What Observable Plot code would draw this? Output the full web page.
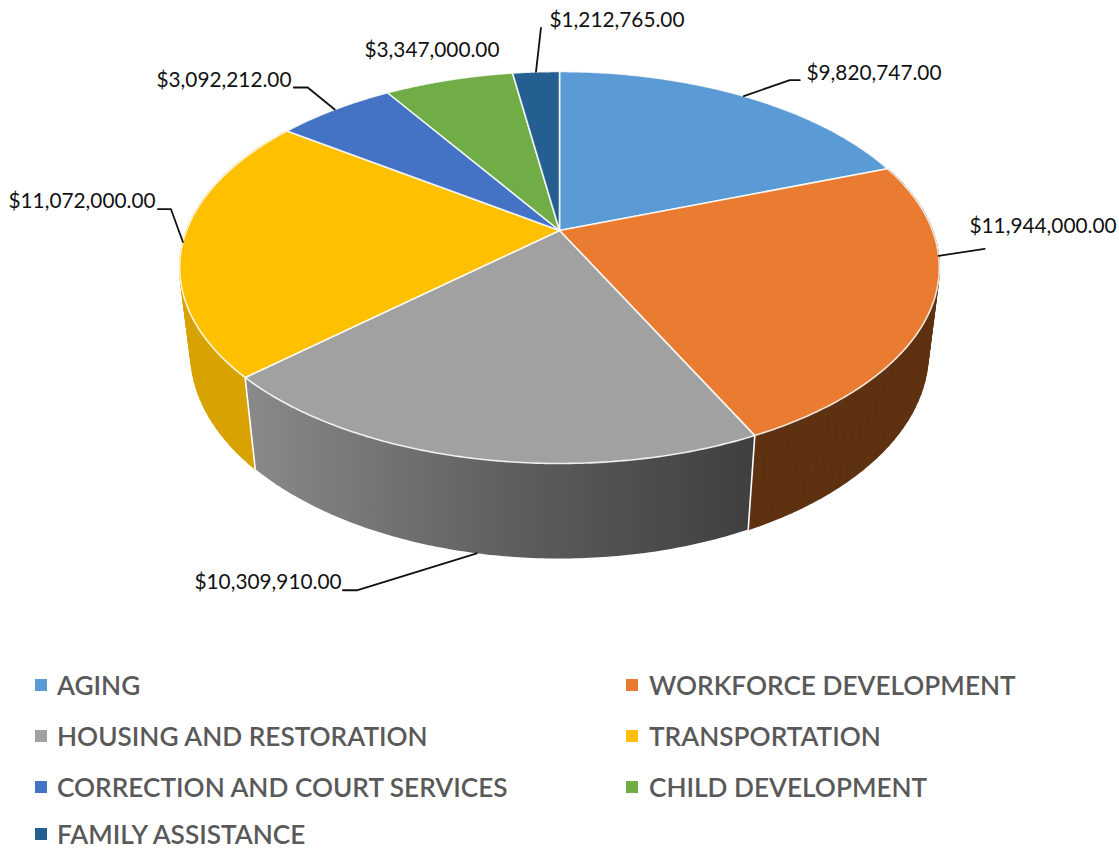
<!DOCTYPE html>
<html>
<head>
<meta charset="utf-8">
<script src="https://cdn.jsdelivr.net/npm/d3@7"></script>
<script src="https://cdn.jsdelivr.net/npm/@observablehq/plot@0.6"></script>
<style>
html,body{margin:0;padding:0;background:#fff;}
#chart svg{display:block;}
#legend{position:relative;padding-top:33px;height:177px;display:grid;grid-template-columns:591px 1fr;grid-auto-rows:24px;row-gap:27px;
  font-family:Lato,sans-serif;font-size:26.2px;font-weight:600;color:#595959;}
#legend .item{display:flex;align-items:center;white-space:nowrap;height:24px;padding-left:35px;}
#legend span{display:block;line-height:24px;height:24px;}
#legend i{display:block;width:12px;height:12px;margin-right:10px;flex:none;}
#legend .item:nth-child(even) i{margin-right:11px;}
#legend .item:last-child{position:relative;top:-4px;}
</style>
</head>
<body>
<div id="chart"></div>
<div id="legend"></div>
<script>
// ---- data ----
const categories = ["AGING","WORKFORCE DEVELOPMENT","HOUSING AND RESTORATION","TRANSPORTATION","CORRECTION AND COURT SERVICES","CHILD DEVELOPMENT","FAMILY ASSISTANCE"];
const values = [9820747, 11944000, 10309910, 11072000, 3092212, 3347000, 1212765];
const colors = ["#5B9BD5","#E97C30","#A1A1A1","#FFC000","#4472C4","#70AD47","#255E91"];

// ---- layout of the tilted disc (perspective view of the pie) ----
const W = 1119, H = 640;
const view = {cx:559, cy:230, a:189, b:373, k:-0.1888, m:0.029, n:86.6};
const project = (t, r = 1, h = 0) => {
  const u = r * Math.sin(t), v = -r * Math.cos(t), d = 1 + view.k * v + view.m * h;
  return {px: view.cx + view.b * u / d, py: view.cy + (view.a * v + view.n * h) / d};
};
const arcs = d3.pie().sort(null).value(d => d)(values);
const arcAngles = (a0, a1, n = 120) => d3.range(0, n + 1).map(i => a0 + (a1 - a0) * i / n);

// tops
const tops = arcs.flatMap((s, i) => {
  const pts = [project(0, 0), ...arcAngles(s.startAngle, s.endAngle).map(t => project(t)), project(0, 0)];
  return pts.map(p => ({...p, name: categories[i]}));
});
// outer wall: small quads for the slices seen at the silhouette, one polygon for the front one
const quads = (i) => {
  const ts = arcAngles(arcs[i].startAngle, arcs[i].endAngle, 48);
  return ts.slice(1).flatMap((t, j) => [project(ts[j]), project(t), project(t,1,1), project(ts[j],1,1), project(ts[j])].map(p => ({...p, seg: j})));
};
const polygon = (i) => {
  const ts = arcAngles(arcs[i].startAngle, arcs[i].endAngle);
  return [...ts.map(t => project(t)), ...ts.slice().reverse().map(t => project(t,1,1))];
};
const seams = [arcs[2].startAngle, arcs[2].endAngle].flatMap((t, j) => [project(t), project(t,1,1)].map(p => ({...p, seam: j})));

// value labels: each leader leaves its slice; offsets are in pixels
const fmt = v => "$" + d3.format(",.2f")(v);
const mid = s => (s.startAngle + s.endAngle) / 2;
const anchors = [
  project(mid(arcs[0])),
  project(97.5 * Math.PI / 180),
  project(mid(arcs[2]), 1, 1),
  project(mid(arcs[3])),
  project(mid(arcs[4])),
  project(mid(arcs[5])),
  project(mid(arcs[6]))
];
const elbowOffsets = [[[46,-16],[56,-16]], [[46,-7]], [[-120,37],[-134,37]], [[-12,-33],[-25,-33]], [[-27,-22],[-41,-22]], [], [[5,-44]]];
const labelPixels = [[806,73],[969,226],[194,582],[8,201],[156,80],[364,50],[549,20]];
const leaders = anchors.flatMap((a, i) => elbowOffsets[i].length ? [a, ...elbowOffsets[i].map(([dx,dy]) => ({px:a.px+dx, py:a.py+dy}))].map(p => ({...p, id:i})) : []);
const labels = values.map((v, i) => ({text: fmt(v), px: labelPixels[i][0], py: labelPixels[i][1]}));

const defs = () => {
  const d = d3.create("svg:defs");
  const g = d.append("linearGradient").attr("id","wallGray").attr("x1",0).attr("x2",1).attr("y1",0).attr("y2",0);
  g.append("stop").attr("offset","0%").attr("stop-color","#8a8a8a");
  g.append("stop").attr("offset","55%").attr("stop-color","#5c5c5c");
  g.append("stop").attr("offset","100%").attr("stop-color","#3f3f3f");
  return d.node();
};

const chart = Plot.plot({
  width: W, height: H, margin: 0,
  style: {background:"#fff"},
  x: {domain:[0,W], range:[0,W], axis:null},
  y: {domain:[0,H], range:[0,H], axis:null},
  color: {domain: categories, range: colors},
  marks: [
    defs,
    Plot.line(quads(1), {x:"px", y:"py", z:"seg", fill:"#5E3110", stroke:"#5E3110", strokeWidth:1.5, strokeLinejoin:"round"}),
    Plot.line(quads(3), {x:"px", y:"py", z:"seg", fill:"#D8A300", stroke:"#D8A300", strokeWidth:1.5, strokeLinejoin:"round"}),
    Plot.line(polygon(2), {x:"px", y:"py", fill:"url(#wallGray)", stroke:"none"}),
    Plot.line(seams, {x:"px", y:"py", z:"seam", stroke:"#fff", strokeWidth:1.6}),
    Plot.line(tops, {x:"px", y:"py", z:"name", fill:"name", stroke:"#fff", strokeOpacity:0.85, strokeWidth:1.6, strokeLinejoin:"round"}),
    Plot.line(leaders, {x:"px", y:"py", z:"id", stroke:"#111", strokeWidth:1.8}),
    Plot.text(labels, {x:"px", y:"py", text:"text", textAnchor:"start", lineAnchor:"middle", fontFamily:"Lato, sans-serif", fontSize:20.8, fill:"#111"})
  ]
});
document.getElementById("chart").appendChild(chart);

const legend = d3.select("#legend");
categories.forEach((c, i) => {
  const item = legend.append("div").attr("class","item");
  item.append("i").style("background", colors[i]);
  item.append("span").text(c);
});
</script>
</body>
</html>
